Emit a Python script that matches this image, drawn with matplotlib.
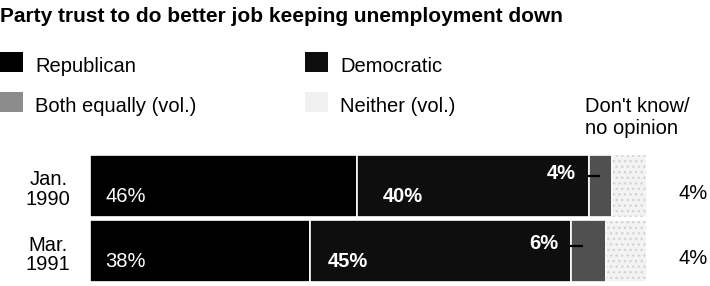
import matplotlib.pyplot as plt
from matplotlib.patches import Rectangle
import numpy as np

plt.rcParams['font.family'] = ['Liberation Sans', 'DejaVu Sans']

# Survey data (percent)
periods = ['Jan.\n1990', 'Mar.\n1991']
republican = np.array([46, 38])
democratic = np.array([40, 45])
both_equally = np.array([4, 6])
neither = np.array([6, 7])
dont_know = np.array([4, 4])

categories = ['Republican', 'Democratic', 'Both equally (vol.)', 'Neither (vol.)']
bar_colors = ['#000000', '#0e0e0e', '#505050', '#f3f3f3', '#ffffff']
swatch_colors = ['#000000', '#0e0e0e', '#8c8c8c', '#f0f0f0']

W, H = 710, 286
fig = plt.figure(figsize=(W / 100, H / 100), dpi=100)


def fx(px):
    return px / W


def fy(py):
    return 1 - py / H


# Title
fig.text(fx(0), fy(22), 'Party trust to do better job keeping unemployment down',
         fontsize=15, fontweight='bold', va='baseline', ha='left')

# Manual legend
legend_pos = [(0, 72), (305, 72), (0, 112), (305, 112)]
for (x0, base), label, col in zip(legend_pos, categories, swatch_colors):
    fig.add_artist(Rectangle((fx(x0), fy(base)), fx(23), 20 / H,
                             transform=fig.transFigure, facecolor=col,
                             edgecolor='none'))
    fig.text(fx(x0 + 35), fy(base), label, fontsize=14.5, va='baseline', ha='left')
fig.text(fx(585), fy(112), "Don't know/", fontsize=14.5, va='baseline', ha='left')
fig.text(fx(585), fy(134), 'no opinion', fontsize=14.5, va='baseline', ha='left')

# Bars
ax = fig.add_axes([fx(90), fy(282), fx(580), 127 / H])
y = np.arange(len(periods))
series = [republican, democratic, both_equally, neither, dont_know]
left = np.zeros(len(periods))
for k, (vals, col) in enumerate(zip(series, bar_colors)):
    ax.barh(y, vals, left=left, height=0.95, color=col, edgecolor='white',
            linewidth=1.2)
    if k == 3:
        # light speckle texture for "Neither"
        ax.barh(y, vals, left=left, height=0.95, fill=False, hatch='...',
                edgecolor='#d4d4d4', linewidth=0)
    left = left + vals

ax.set_xlim(0, 100)
ax.set_ylim(1.475, -0.475)
ax.axis('off')

dem_end = republican + democratic
for i in range(len(periods)):
    ax.text(-0.072, i + 0.06, periods[i], transform=ax.get_yaxis_transform(),
            ha='center', va='center', fontsize=14.5, linespacing=1.05)
    ax.text(2.6, i + 0.16, f'{republican[i]}%', color='white',
            fontsize=14.5, ha='left', va='center')
    ax.text(republican[i] + 4.5 - i * 1.5, i + 0.16, f'{democratic[i]}%',
            color='white', fontsize=14.5, fontweight='bold', ha='left', va='center')
    off = -0.19 if i == 0 else -0.11
    ax.text(dem_end[i] - 2.2, i + off, f'{both_equally[i]}%', color='white',
            fontsize=14.5, fontweight='bold', ha='right', va='center')
    ax.plot([dem_end[i] - 0.3, dem_end[i] + 2.0], [i + off + 0.03] * 2,
            color='black', lw=1.6, solid_capstyle='butt')
    ax.text(104, i + 0.12, f'{dont_know[i]}%', fontsize=14.5, ha='center',
            va='center', clip_on=False)

fig.savefig('out.png', dpi=100)
